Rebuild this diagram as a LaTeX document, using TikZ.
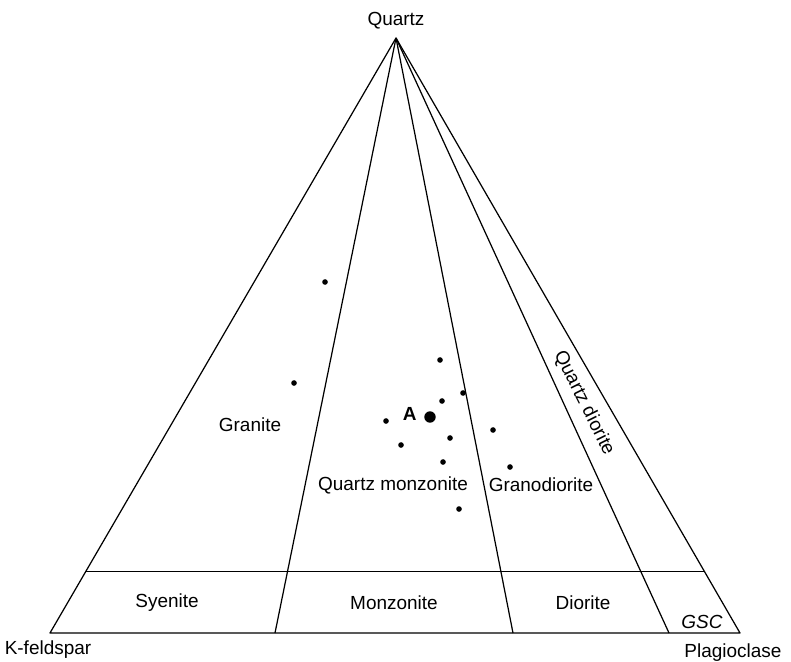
\documentclass[tikz,border=0pt]{standalone}
\usepackage{fontspec}
\setmainfont{Liberation Sans}
\usetikzlibrary{calc}

\begin{document}
\begin{tikzpicture}[x=0.02cm,y=-0.02cm,font=\fontsize{10.8}{13}\selectfont,edge/.style={line width=0.7pt, line join=round},grain/.style={circle, fill=black, inner sep=0pt, minimum size=3.2pt},field/.style={inner sep=1pt}]
\useasboundingbox (0,0) rectangle (791,662);
\coordinate (Q) at (396,38);\coordinate (K) at (50,633);\coordinate (P) at (740,633);
\coordinate (b1) at (275,633);\coordinate (b2) at (513,633);\coordinate (b3) at (669,633);
\draw[edge] (K) -- (Q) -- (P) -- cycle;
\draw[edge] ($(K)!0.104!(Q)$) -- ($(P)!0.104!(Q)$);
\foreach \b in {b1,b2,b3}\draw[edge] (Q) -- (\b);
\node (quartz) at (396,21) {Quartz};\node (kfeld) at (48,650) {K-feldspar};\node (plag) at (733,653) {Plagioclase};
\node[field] (granite) at (250,425) {Granite};\node[field] (qmonz) at (393,485) {Quartz monzonite};\node[field] (grano) at (541,485) {Granodiorite};
\node[field, rotate=-63.5] (qdior) at (584,403) {Quartz diorite};
\node[field] (syen) at (167,603) {Syenite};\node[field] (monz) at (394,603) {Monzonite};\node[field] (dior) at (583,603) {Diorite};\node[field, font=\fontsize{10.8}{13}\selectfont\itshape] (gsc) at (702,622) {GSC};
\foreach \p [count=\i] in {(325,282),(294,383),(440,360),(463,393),(442,401),(386,421),(493,430),(450,438),(401,445),(443,462),(510,467),(459,509)}\node[grain] (g\i) at \p {};
\node[circle, fill=black, inner sep=0pt, minimum size=6.5pt] (A) at (430,417) {};
\node[font=\fontsize{10.8}{13}\selectfont\bfseries, anchor=east, inner sep=1pt] (Alab) at ([xshift=-3pt, yshift=2pt]A.west) {A};
\end{tikzpicture}
\end{document}
